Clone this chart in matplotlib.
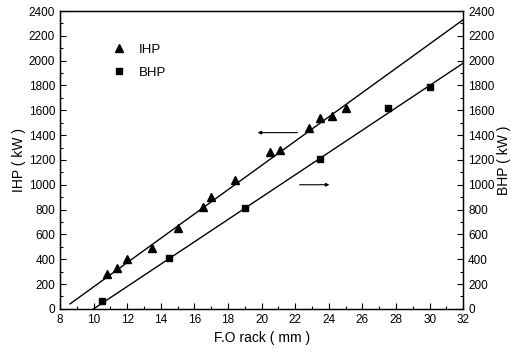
import numpy as np
import matplotlib
matplotlib.use("Agg")
import matplotlib.pyplot as plt
from matplotlib.ticker import MultipleLocator

ihp_rack = [10.8, 11.4, 12.0, 13.5, 15.0, 16.5, 17.0, 18.4, 20.5, 21.1, 22.8, 23.5, 24.2, 25.0]
ihp_kw = [280, 330, 400, 490, 650, 820, 900, 1040, 1260, 1280, 1460, 1540, 1550, 1620]
bhp_rack = [10.5, 14.5, 19.0, 23.5, 27.5, 30.0]
bhp_kw = [60, 410, 810, 1210, 1620, 1790]

# fitted lines (end points)
ihp_fit_x = [8.6, 32.0]
ihp_fit_y = [40, 2330]
bhp_fit_x = [10.0, 32.0]
bhp_fit_y = [0, 1980]

plt.rcParams['font.family'] = ['Liberation Sans', 'DejaVu Sans']

fig = plt.figure(figsize=(5.17, 3.55), dpi=100)
ax = fig.add_axes([0.116, 0.130, 0.780, 0.839])

ax.plot(ihp_fit_x, ihp_fit_y, color='black', lw=1.0)
ax.plot(bhp_fit_x, bhp_fit_y, color='black', lw=1.0)
ax.plot(ihp_rack, ihp_kw, '^', color='black', ms=5.5, ls='none', label='IHP')
ax.plot(bhp_rack, bhp_kw, 's', color='black', ms=4.5, ls='none', label='BHP')

# arrows pointing to the matching axis
ax.annotate('', xy=(19.6, 1420), xytext=(22.3, 1420),
            arrowprops=dict(arrowstyle='-|>', color='black', lw=0.8, mutation_scale=5))
ax.annotate('', xy=(24.2, 1000), xytext=(22.1, 1000),
            arrowprops=dict(arrowstyle='-|>', color='black', lw=0.8, mutation_scale=5))

ax.set_xlim(8, 32)
ax.set_ylim(0, 2400)
ax.xaxis.set_major_locator(MultipleLocator(2))
ax.xaxis.set_minor_locator(MultipleLocator(1))
ax.yaxis.set_major_locator(MultipleLocator(200))
ax.yaxis.set_minor_locator(MultipleLocator(100))
ax.tick_params(which='both', direction='in', labelsize=8.5, width=0.8)
ax.tick_params(which='major', length=4)
ax.tick_params(which='minor', length=2)
for s in ax.spines.values():
    s.set_linewidth(1.0)

ax.set_xlabel('F.O rack ( mm )', fontsize=10)
ax.set_ylabel('IHP ( kW )', fontsize=10, labelpad=2)

ax2 = ax.twinx()
ax2.set_ylim(0, 2400)
ax2.yaxis.set_major_locator(MultipleLocator(200))
ax2.yaxis.set_minor_locator(MultipleLocator(100))
ax2.tick_params(which='both', direction='in', labelsize=8.5, width=0.8)
ax2.tick_params(which='major', length=4)
ax2.tick_params(which='minor', length=2)
ax2.set_ylabel('BHP ( kW )', fontsize=10, labelpad=2)

ax.legend(loc='upper left', bbox_to_anchor=(0.1, 0.93), frameon=False,
          fontsize=9.5, handlelength=1.0, handletextpad=1.0, labelspacing=0.8)

fig.savefig('out.png', dpi=100)
